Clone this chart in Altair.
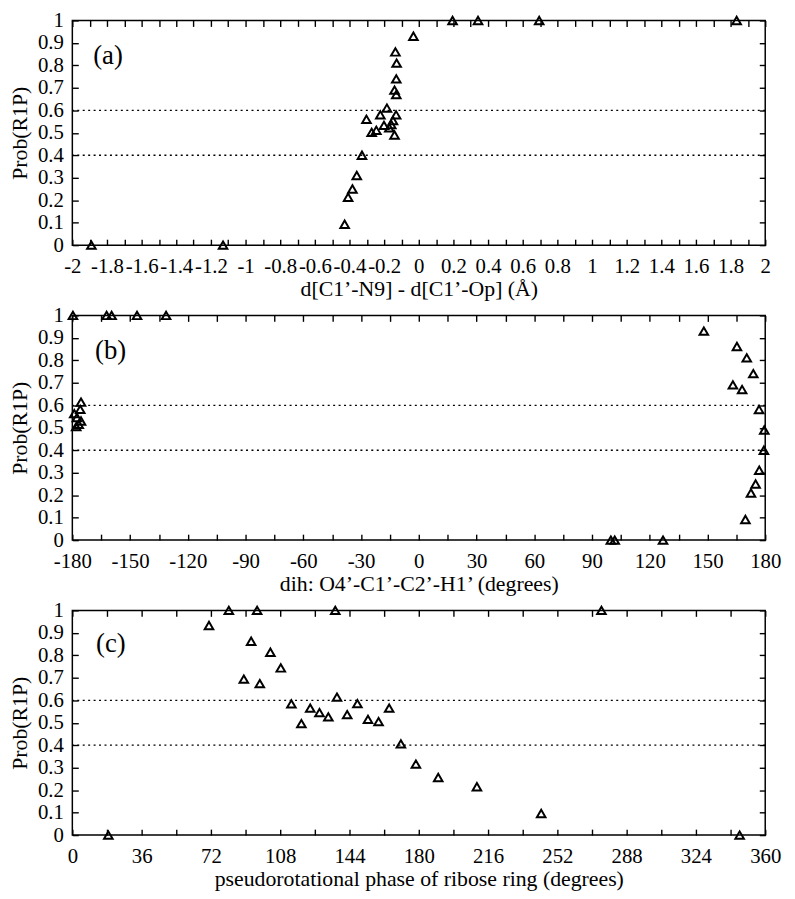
import altair as alt
import pandas as pd

FONT = "Liberation Serif"

# ---------------- data ----------------
# panel (a): d[C1'-N9] - d[C1'-Op]  vs  Prob(R1P)
a_x = [-1.89, -1.13, 0.195, 0.342, 0.695, 1.835, -0.031, -0.135, -0.128, -0.13,
       -0.14, -0.13, -0.184, -0.222, -0.131, -0.302, -0.149, -0.159, -0.201, -0.17,
       -0.245, -0.272, -0.14, -0.328, -0.358, -0.383, -0.408, -0.428]
a_y = [0.0, 0.0, 1.0, 1.0, 1.0, 1.0, 0.93, 0.86, 0.81, 0.74,
       0.69, 0.67, 0.61, 0.58, 0.58, 0.56, 0.555, 0.537, 0.533, 0.522,
       0.511, 0.502, 0.49, 0.40, 0.31, 0.25, 0.213, 0.093]

# panel (b): dihedral O4'-C1'-C2'-H1'
b_x = [-179.7, -162.2, -159.6, -146.4, -131.3,
       -175.5, -175.9, -179.0, -177.6, -175.5, -176.7, -178.0,
       148.1, 165.3, 170.4, 173.8, 163.2, 168.0, 176.8, 179.5, 179.3, 176.9,
       175.0, 172.6, 169.7,
       99.8, 101.8, 126.9]
b_y = [1.0, 1.0, 1.0, 1.0, 1.0,
       0.614, 0.582, 0.563, 0.546, 0.53, 0.515, 0.505,
       0.93, 0.862, 0.811, 0.741, 0.691, 0.670, 0.581, 0.49, 0.40, 0.311,
       0.25, 0.21, 0.092,
       0.0, 0.0, 0.0]

# panel (c): pseudorotational phase
c_x = [18.7, 81.3, 96.0, 136.6, 274.9, 346.7, 71.0, 92.9, 102.9, 108.3,
       89.1, 97.4, 113.8, 137.5, 119.0, 123.6, 128.4, 133.0, 142.8, 148.1,
       153.6, 159.1, 164.6, 170.7, 178.5, 190.1, 210.2, 243.6]
c_y = [0.0, 1.0, 1.0, 1.0, 1.0, 0.0, 0.933, 0.863, 0.814, 0.744,
       0.694, 0.674, 0.584, 0.614, 0.496, 0.565, 0.545, 0.526, 0.536, 0.585,
       0.515, 0.505, 0.565, 0.406, 0.316, 0.256, 0.215, 0.096]

ref_levels = [0.4, 0.6]
y_ticks = [round(i * 0.1, 1) for i in range(11)]

a_ticks = [round(-2 + i * 0.1, 1) for i in range(41)]
b_ticks = [-180 + i * 15 for i in range(25)]
c_ticks = [i * 18 for i in range(21)]

a_title = "d[C1\u2019-N9] - d[C1\u2019-Op] (\u00c5)"
b_title = "dih: O4\u2019-C1\u2019-C2\u2019-H1\u2019 (degrees)"
c_title = "pseudorotational phase of ribose ring (degrees)"


def tick_style():
    return dict(domain=False, offset=-6, tickSize=6, tickColor="black",
                tickWidth=1.4, grid=False)


def label_style():
    return dict(labelFont=FONT, labelFontSize=21, labelColor="black",
                titleFont=FONT, titleFontSize=22, titleFontWeight="normal",
                titleColor="black", labelOverlap=False, labelFlush=False)


def panel(xs, ys, domain, ticks, label_cond, xtitle, tag, tag_x, tag_y):
    df = pd.DataFrame({"x": xs, "y": ys})
    xs_ = alt.Scale(domain=domain, nice=False, zero=False)
    ys_ = alt.Scale(domain=[0, 1], nice=False, zero=False)

    x_bottom = alt.Axis(orient="bottom", values=ticks,
                        labelExpr=label_cond + " ? toString(datum.value) : ''",
                        labelPadding=11, title=xtitle, titlePadding=2,
                        **tick_style(), **label_style())
    y_left = alt.Axis(orient="left", values=y_ticks,
                      labelExpr="toString(datum.value)",
                      labelPadding=9, title="Prob(R1P)", titlePadding=6,
                      **tick_style(), **label_style())
    x_top = alt.Axis(orient="top", values=ticks, labels=False, title=None,
                     minExtent=0, **tick_style())
    y_right = alt.Axis(orient="right", values=y_ticks, labels=False, title=None,
                       minExtent=0, **tick_style())

    frame = alt.Chart(df).mark_point(opacity=0).encode(
        x=alt.X("x:Q", scale=xs_, axis=x_top),
        y=alt.Y("y:Q", scale=ys_, axis=y_right),
    )
    rules = alt.Chart(pd.DataFrame({"ref": ref_levels})).mark_rule(
        color="black", strokeDash=[2, 3.5], strokeWidth=1.3
    ).encode(y=alt.Y("ref:Q", scale=ys_, axis=None))
    pts = alt.Chart(df).mark_point(
        shape="triangle-up", filled=False, size=75, stroke="black",
        strokeWidth=2, opacity=1
    ).encode(
        x=alt.X("x:Q", scale=xs_, axis=x_bottom),
        y=alt.Y("y:Q", scale=ys_, axis=y_left),
    )
    label = alt.Chart(pd.DataFrame({"x": [tag_x], "y": [tag_y], "t": [tag]})).mark_text(
        align="left", baseline="middle", font=FONT, fontSize=27, color="black"
    ).encode(
        x=alt.X("x:Q", scale=xs_, axis=None),
        y=alt.Y("y:Q", scale=ys_, axis=None),
        text="t:N",
    )
    return alt.layer(frame, rules, pts, label).resolve_axis(
        x="independent", y="independent"
    ).properties(width=700, height=227)


pa = panel(a_x, a_y, [-2, 2], a_ticks,
           "abs(round(datum.value*10)) % 2 == 0",
           a_title, "(a)", -1.88, 0.84)
pb = panel(b_x, b_y, [-180, 180], b_ticks,
           "datum.value % 30 == 0",
           b_title, "(b)", -168.2, 0.843)
pc = panel(c_x, c_y, [0, 360], c_ticks,
           "datum.value % 36 == 0",
           c_title, "(c)", 12.3, 0.85)

chart = alt.vconcat(pa, pb, pc, spacing=3).configure_view(
    stroke="black", strokeWidth=1.5
).properties(
    padding={"left": 0, "top": -4, "right": 5, "bottom": 5},
    background="white",
)

chart.save("out.html", embed_options={"renderer": "svg", "actions": False})
